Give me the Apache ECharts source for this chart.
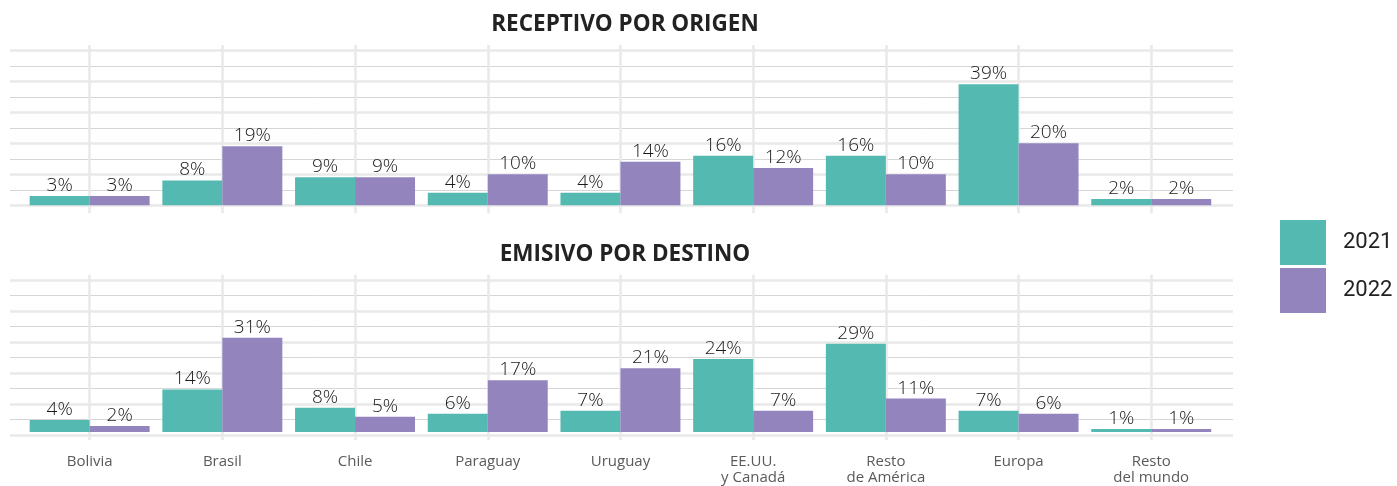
<!DOCTYPE html>
<html>
<head>
<meta charset="utf-8">
<script src="https://cdn.jsdelivr.net/npm/echarts@6/dist/echarts.min.js"></script>
<style>
html,body{margin:0;padding:0;background:#fff;}
#chart{width:1397px;height:486px;}
</style>
</head>
<body>
<div id="chart"></div>
<script>
const categories = ['Bolivia','Brasil','Chile','Paraguay','Uruguay','EE.UU.\ny Canadá','Resto\nde América','Europa','Resto\ndel mundo'];
const seriesNames = ['2021','2022'];
const receptivo2021 = [3,8,9,4,4,16,16,39,2];
const receptivo2022 = [3,19,9,10,14,12,10,20,2];
const emisivo2021 = [4,14,8,6,7,24,29,7,1];
const emisivo2022 = [2,31,5,17,21,7,11,6,1];
const panelTitles = ['RECEPTIVO POR ORIGEN','EMISIVO POR DESTINO'];

const TEAL = '#53b9b1';
const PURPLE = '#9384be';
const labelFont = "'Open Sans', 'Noto Sans', sans-serif";

const chart = echarts.init(document.getElementById('chart'), null, {renderer:'canvas'});

function bgY(idx){
  return {
    gridIndex: idx, type:'value', min:0, max:50, interval:10,
    axisLabel:{show:false}, axisLine:{show:false}, axisTick:{show:false},
    splitLine:{show:true, lineStyle:{color:'#e9e9e9', width:2.5}},
    minorTick:{show:false, splitNumber:2},
    minorSplitLine:{show:true, lineStyle:{color:'#d6d6d6', width:1}}
  };
}
function bgX(idx){
  return {gridIndex: idx, type:'value', min:0, max:1, show:false};
}
function mainX(idx, showLabels){
  return {
    gridIndex: idx, type:'category', data: categories, boundaryGap:true,
    axisLine:{show:false}, axisTick:{show:false},
    axisLabel:{show:showLabels, interval:0, color:'#5a5a5a', fontSize:15, lineHeight:16, margin:14, fontFamily:labelFont},
    splitLine:{show:true, alignWithLabel:true, interval:0, lineStyle:{color:'#e9e9e9', width:2.5}}
  };
}
function mainY(idx){
  return {gridIndex: idx, type:'value', min:-2.6, max:51.7, show:false, splitLine:{show:false}};
}
function barSeries(name, data, color, xi){
  return {
    name: name, type:'bar', xAxisIndex: xi, yAxisIndex: xi, data: data,
    barGap:'0%', barCategoryGap:'9.6%',
    itemStyle:{color: color},
    label:{show:true, position:'top', distance:1, formatter:'{c}%', color:'#1a1a1a', fontSize:19, fontWeight:300, fontFamily:labelFont},
    z: 3
  };
}

const option = {
  animation:false,
  backgroundColor:'#fff',
  title: [
    {text: panelTitles[0], left: 620, top: 8, textAlign:'center',
     textStyle:{fontSize:22.5, fontWeight:'bold', color:'#222', fontFamily:labelFont}},
    {text: panelTitles[1], left: 620, top: 238, textAlign:'center',
     textStyle:{fontSize:22.5, fontWeight:'bold', color:'#222', fontFamily:labelFont}}
  ],
  legend: {
    data: seriesNames, orient:'vertical', left:1280, top:220, padding:0,
    itemWidth:46, itemHeight:45, itemGap:3, icon:'rect',
    textStyle:{fontSize:22, color:'#222', fontFamily:"'Roboto', sans-serif", padding:[0,0,0,12]}
  },
  grid: [
    {left:10, right:164, top:50.3, height:155},
    {left:10, right:164, top:280, height:155},
    {left:23.3, right:179.4, top:45, height:168.3},
    {left:23.3, right:179.4, top:274.7, height:168.3}
  ],
  xAxis: [bgX(0), bgX(1), mainX(2,false), mainX(3,true)],
  yAxis: [bgY(0), bgY(1), mainY(2), mainY(3)],
  series: [
    barSeries(seriesNames[0], receptivo2021, TEAL, 2),
    barSeries(seriesNames[1], receptivo2022, PURPLE, 2),
    barSeries(seriesNames[0], emisivo2021, TEAL, 3),
    barSeries(seriesNames[1], emisivo2022, PURPLE, 3)
  ]
};
chart.setOption(option);
</script>
</body>
</html>
